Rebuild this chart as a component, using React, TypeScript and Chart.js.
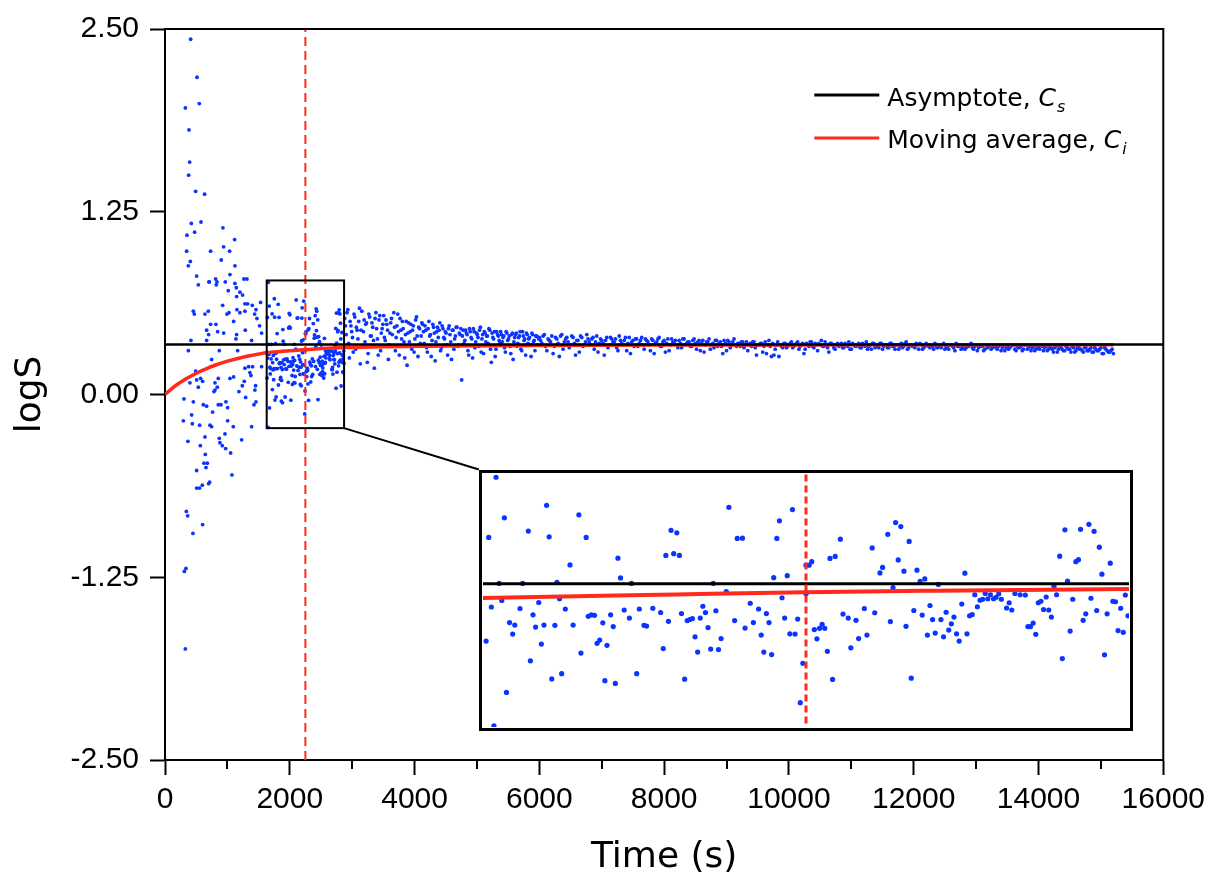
import React, { useEffect, useRef } from 'react';
import { Chart, registerables } from 'chart.js';

Chart.register(...registerables);

// ---------- axis / reference values ----------
const X_MIN = 0;
const X_MAX = 16000;
const X_STEP = 2000;
const MINOR_X_TICKS = [1000, 3000, 5000, 7000, 9000, 11000, 13000, 15000];
const Y_MIN = -2.5;
const Y_MAX = 2.5;
const Y_STEP = 1.25;

const ASYMPTOTE = 0.342; // C_s
const CUTOFF_TIME = 2250; // red dashed line

// zoom box (data units) shown enlarged in the inset
const BOX_X = [1630, 2870];
const BOX_Y = [-0.23, 0.78];
// where the inset sits on the main chart (data units of main chart)
const INSET_X = [5030, 15520];
const INSET_Y = [-2.3, -0.513];

// moving average C_i
const MA_T = [0, 100, 200, 300, 400, 534, 650, 801, 1000, 1200, 1400, 1630, 2000, 2250, 2500, 2870, 3500, 4500, 6000, 8000, 10000, 12000, 15200];
const MA_V = [0, 0.037, 0.07, 0.098, 0.122, 0.152, 0.174, 0.2, 0.228, 0.25, 0.268, 0.285, 0.299, 0.308, 0.314, 0.321, 0.327, 0.332, 0.336, 0.338, 0.339, 0.34, 0.34];

// early scattered logS points [time, logS]
const EARLY_POINTS: [number, number][] = [
  [411, 2.43], [513, 2.17], [550, 1.99], [326, 1.96], [384, 1.81], [395, 1.59], [379, 1.5], [491, 1.39], [635, 1.37], [422, 1.17],
  [577, 1.18], [929, 1.14], [352, 1.09], [475, 1.11], [1116, 1.06], [347, 0.98], [731, 0.98], [940, 1.01], [1036, 0.98], [406, 0.91],
  [374, 0.88], [902, 0.92], [1121, 0.88], [507, 0.81], [812, 0.79], [1041, 0.82], [1265, 0.79], [705, 0.77], [833, 0.77], [1313, 0.79],
  [534, 0.75], [710, 0.77], [822, 0.75], [966, 0.77], [1121, 0.76], [1143, 0.73], [1014, 0.71], [1201, 0.7], [1244, 0.68], [1148, 0.67],
  [1324, 0.62], [1281, 0.62], [1399, 0.61], [1458, 0.58], [1532, 0.63], [924, 0.61], [1153, 0.58], [1201, 0.56], [1281, 0.57], [1025, 0.56],
  [993, 0.55], [694, 0.57], [454, 0.57], [470, 0.55], [641, 0.55], [1436, 0.55], [1474, 0.52], [1100, 0.5], [731, 0.48], [817, 0.48],
  [667, 0.44], [844, 0.43], [699, 0.41], [940, 0.42], [1148, 0.41], [1287, 0.44], [1516, 0.47], [1548, 0.42], [667, 0.37], [416, 0.37],
  [1137, 0.38], [1388, 0.37],
  [374, 0.3], [747, 0.24], [870, 0.3], [1164, 0.3], [1281, 0.18], [1340, 0.19], [1404, 0.19], [1548, 0.19], [1377, 0.13], [1361, 0.15],
  [491, 0.16], [507, 0.1], [571, 0.11], [603, 0.09], [400, 0.08], [534, 0.05], [801, 0.08], [854, 0.11], [1041, 0.11], [1100, 0.12],
  [1239, 0.06], [1271, 0.09], [1452, 0.06], [801, 0.03], [838, 0.05], [785, 0.02], [1185, 0.02], [1441, 0.03], [1292, -0.02], [304, -0.03],
  [454, -0.05], [614, -0.07], [667, -0.08], [854, -0.07], [897, -0.07], [977, -0.05], [1004, -0.09], [1426, -0.07], [1458, -0.05], [763, -0.12],
  [427, -0.14], [294, -0.18], [438, -0.2], [555, -0.21], [721, -0.21], [747, -0.22], [1004, -0.18], [1094, -0.22], [1388, -0.22], [961, -0.27],
  [641, -0.29], [870, -0.3], [368, -0.32], [880, -0.33], [1228, -0.31], [918, -0.35], [566, -0.35], [972, -0.37], [1052, -0.4], [646, -0.41],
  [625, -0.47], [678, -0.47], [657, -0.5], [507, -0.52], [1073, -0.55],
  [598, -0.62], [699, -0.61], [715, -0.6], [507, -0.64], [555, -0.64], [342, -0.8], [363, -0.83], [603, -0.89], [448, -0.95], [336, -1.19],
  [310, -1.21], [326, -1.74],
];

// points inside the zoom box [time, logS]
const BOX_POINTS: [number, number][] = [
  [1655, 0.767], [1641, 0.527], [1671, 0.605], [1717, 0.552], [1752, 0.655], [1757, 0.529], [1814, 0.617], [1828, 0.527], [1797, 0.417], [1772, 0.347],
  [1661, 0.343], [1706, 0.343], [1889, 0.444], [1894, 0.365], [1915, 0.343], [1981, 0.455], [1991, 0.555], [2002, 0.545], [1996, 0.462], [2007, 0.455],
  [2102, 0.647], [2118, 0.523], [2128, 0.524], [2199, 0.593], [2194, 0.523], [2224, 0.638], [2188, 0.366], [2214, 0.374], [2072, 0.343], [2250, 0.416],
  [1666, 0.275], [1646, 0.249], [1701, 0.243], [1681, 0.187], [1691, 0.177], [1687, 0.141], [1636, 0.113], [1726, 0.218], [1737, 0.267], [1731, 0.169],
  [1747, 0.177], [1768, 0.176], [1742, 0.101], [1721, 0.034], [1762, -0.038], [1781, -0.017], [1675, -0.092], [1651, -0.225], [1788, 0.241], [1803, 0.177],
  [1818, 0.065], [1832, 0.212], [1838, 0.218], [1844, 0.216], [1777, 0.282], [1860, 0.186], [1875, 0.218], [1880, 0.171], [1849, 0.104], [1854, 0.117],
  [1868, 0.096], [1864, -0.045], [1884, -0.056], [1901, 0.237], [1911, 0.205], [1930, 0.241], [1939, 0.176], [1944, 0.173], [1956, 0.244], [1971, 0.227],
  [1986, 0.192], [1976, 0.083], [1925, -0.017], [2011, 0.223], [2022, 0.195], [2027, 0.199], [2032, 0.203], [2047, 0.205], [2052, 0.252], [2057, 0.227],
  [2062, 0.167], [2077, 0.234], [2037, 0.13], [2042, 0.069], [2067, 0.081], [2082, 0.079], [2087, 0.123], [2017, -0.039], [2097, 0.311], [2113, 0.195],
  [2133, 0.165], [2143, 0.264], [2149, 0.187], [2159, 0.241], [2164, 0.137], [2169, 0.069], [2174, 0.223], [2179, 0.187], [2184, 0.059], [2204, 0.286],
  [2209, 0.205], [2219, 0.142], [2229, 0.141], [2234, 0.201], [2244, 0.024], [2239, -0.133], [2250, 0.302],
  [2256, 0.416], [2261, 0.43], [2296, 0.443], [2306, 0.451], [2316, 0.52], [2377, 0.485], [2407, 0.539], [2422, 0.586], [2432, 0.57], [2448, 0.511],
  [2392, 0.385], [2397, 0.407], [2427, 0.437], [2438, 0.392], [2463, 0.396], [2469, 0.351], [2478, 0.361], [2555, 0.384], [2417, 0.326], [2504, 0.339],
  [2737, 0.452], [2747, 0.557], [2752, 0.352], [2768, 0.43], [2773, 0.438], [2777, 0.559], [2793, 0.579], [2803, 0.551], [2813, 0.488], [2818, 0.38],
  [2834, 0.424], [2726, 0.331],
  [2266, 0.159], [2271, 0.122], [2276, 0.164], [2281, 0.18], [2286, 0.164], [2291, 0.072], [2301, -0.04], [2321, 0.221], [2331, 0.205], [2336, 0.086],
  [2346, 0.196], [2351, 0.123], [2362, 0.243], [2367, 0.137], [2382, 0.226], [2412, 0.191], [2442, 0.172], [2452, -0.035], [2457, 0.235], [2473, 0.217],
  [2483, 0.137], [2488, 0.255], [2493, 0.199], [2498, 0.145], [2509, 0.199], [2514, 0.13], [2519, 0.228], [2524, 0.157], [2529, 0.182], [2534, 0.209],
  [2539, 0.142], [2544, 0.113], [2549, 0.261], [2559, 0.142], [2564, 0.214], [2569, 0.219], [2579, 0.25], [2574, 0.298], [2584, 0.276], [2589, 0.28],
  [2594, 0.303], [2599, 0.282], [2604, 0.298], [2610, 0.282], [2615, 0.288], [2620, 0.302], [2625, 0.28], [2635, 0.245], [2640, 0.266], [2645, 0.237],
  [2651, 0.303], [2661, 0.298], [2671, 0.297], [2676, 0.171], [2681, 0.171], [2686, 0.185], [2691, 0.14], [2696, 0.266], [2701, 0.272], [2706, 0.239],
  [2711, 0.289], [2716, 0.237], [2721, 0.209], [2731, 0.298], [2742, 0.043], [2757, 0.153], [2762, 0.28], [2782, 0.196], [2787, 0.222], [2797, 0.284],
  [2808, 0.235], [2823, 0.058], [2828, 0.222], [2839, 0.272], [2844, 0.27], [2849, 0.155], [2854, 0.244], [2859, 0.148], [2863, 0.297], [2868, 0.214],
];

// later, regularly sampled logS values (two interleaved sample series)
const SEG_A_START = 2880;
const SEG_A_STEP = 25;
const SEG_A_VALUES = [
  0.52, 0.41, 0.58, 0.25, 0.47, 0.39, 0.55, 0.31, 0.44, 0.5, 0.21, 0.57, 0.43, 0.36, 0.49, 0.28, 0.53, 0.4, 0.46, 0.18, 0.56, 0.38, 0.51, 0.3, 0.45,
  0.54, 0.37, 0.48, 0.24, 0.42, 0.52, 0.33, 0.46, 0.39, 0.55, 0.27, 0.44, 0.5, 0.36, 0.41, 0.2, 0.49, 0.43, 0.31, 0.47, 0.38, 0.53, 0.26, 0.45, 0.4,
  0.48, 0.35, 0.44, 0.29, 0.5, 0.41, 0.37, 0.46, 0.23, 0.43, 0.39, 0.49, 0.32, 0.45, 0.38, 0.42, 0.27, 0.47, 0.36, 0.44, 0.31, 0.4, 0.46, 0.34, 0.41,
  0.1, 0.44, 0.37, 0.42, 0.3, 0.45, 0.39, 0.25, 0.43, 0.36, 0.41, 0.33, 0.46, 0.38, 0.28, 0.42, 0.4, 0.35, 0.44, 0.22, 0.39, 0.43, 0.31, 0.41, 0.37,
  0.43, 0.36, 0.4, 0.29, 0.42, 0.38, 0.33, 0.41, 0.24, 0.39, 0.42, 0.35, 0.4, 0.31, 0.43, 0.37, 0.27, 0.41, 0.38, 0.34, 0.42, 0.36, 0.3, 0.4, 0.39,
];
const SEG_A2_START = 2892;
const SEG_A2_STEP = 25;
const SEG_A2_VALUES = [
  0.47, 0.56, 0.35, 0.5, 0.43, 0.29, 0.53, 0.46, 0.38, 0.59, 0.44, 0.33, 0.51, 0.48, 0.22, 0.55, 0.4, 0.49, 0.37, 0.52, 0.45, 0.27, 0.54, 0.42, 0.48,
  0.39, 0.51, 0.44, 0.34, 0.49, 0.41, 0.56, 0.3, 0.47, 0.43, 0.52, 0.38, 0.45, 0.25, 0.5, 0.42, 0.36, 0.48, 0.44, 0.29, 0.51, 0.4, 0.46, 0.35, 0.49,
  0.43, 0.47, 0.32, 0.45, 0.4, 0.26, 0.48, 0.42, 0.36, 0.46, 0.44, 0.3, 0.47, 0.39, 0.43, 0.34, 0.45, 0.41, 0.24, 0.44, 0.38, 0.46, 0.33, 0.42, 0.45,
  0.4, 0.35, 0.44, 0.41, 0.27, 0.43, 0.38, 0.45, 0.32, 0.42, 0.39, 0.44, 0.29, 0.41, 0.43, 0.36, 0.4, 0.45, 0.31, 0.42, 0.38, 0.26, 0.43, 0.4, 0.35,
  0.41, 0.39, 0.32, 0.43, 0.37, 0.4, 0.28, 0.42, 0.36, 0.41, 0.33, 0.39, 0.43, 0.3, 0.4, 0.38, 0.42, 0.35, 0.39, 0.26, 0.41, 0.37, 0.4, 0.34, 0.38,
];
const SEG_B_START = 6000;
const SEG_B_STEP = 40;
const SEG_B_VALUES = [
  0.39, 0.35, 0.41, 0.3, 0.37, 0.4, 0.33, 0.38, 0.26, 0.41, 0.36, 0.39, 0.32, 0.4, 0.35, 0.37, 0.29, 0.39, 0.34, 0.41,
  0.36, 0.38, 0.31, 0.4, 0.35, 0.37, 0.27, 0.39, 0.34, 0.38, 0.36, 0.32, 0.4, 0.35, 0.37, 0.3, 0.39, 0.36, 0.33, 0.38,
  0.35, 0.39, 0.31, 0.37, 0.34, 0.38, 0.28, 0.36, 0.39, 0.33, 0.37, 0.35, 0.3, 0.38, 0.36, 0.34, 0.37, 0.32, 0.38, 0.35,
  0.36, 0.33, 0.38, 0.31, 0.37, 0.35, 0.29, 0.36, 0.38, 0.34, 0.32, 0.37, 0.35, 0.33, 0.37, 0.3, 0.36, 0.34, 0.38, 0.33,
  0.35, 0.36, 0.32, 0.36, 0.34, 0.33, 0.36, 0.27, 0.34, 0.35, 0.33, 0.28, 0.37, 0.26, 0.27, 0.34, 0.26, 0.33, 0.35, 0.32,
  0.34, 0.36, 0.33, 0.35, 0.31, 0.34, 0.28, 0.35, 0.33, 0.36, 0.32, 0.34, 0.35, 0.37, 0.33, 0.34, 0.29, 0.35, 0.32, 0.34,
  0.33, 0.35, 0.32, 0.34, 0.36, 0.31, 0.34, 0.33, 0.35, 0.32, 0.34, 0.36, 0.33, 0.31, 0.35, 0.34, 0.32, 0.35, 0.33, 0.34,
  0.32, 0.35, 0.33, 0.34, 0.31, 0.35, 0.33, 0.36, 0.32, 0.34, 0.33, 0.35, 0.31, 0.34, 0.32, 0.35, 0.33, 0.34, 0.31, 0.33,
  0.34, 0.32, 0.35, 0.33, 0.31, 0.34, 0.32, 0.35, 0.33, 0.31, 0.34, 0.32, 0.33, 0.35, 0.31, 0.34, 0.32, 0.33, 0.3, 0.34,
  0.33, 0.31, 0.34, 0.32, 0.33, 0.3, 0.34, 0.32, 0.31, 0.33, 0.34, 0.3, 0.32, 0.33, 0.31, 0.34, 0.32, 0.3, 0.33, 0.31,
  0.32, 0.34, 0.3, 0.33, 0.31, 0.32, 0.29, 0.33, 0.31, 0.32, 0.3, 0.33, 0.31, 0.29, 0.32, 0.3, 0.33, 0.31, 0.29, 0.32,
  0.3, 0.32, 0.29, 0.31, 0.3, 0.32, 0.28, 0.31, 0.29, 0.3, 0.28,
];
const SEG_B2_START = 6020;
const SEG_B2_STEP = 40;
const SEG_B2_VALUES = [
  0.37, 0.4, 0.33, 0.38, 0.36, 0.28, 0.39, 0.35, 0.4, 0.31, 0.38, 0.36, 0.34, 0.39, 0.27, 0.37, 0.4, 0.33, 0.36, 0.38,
  0.34, 0.39, 0.36, 0.29, 0.38, 0.35, 0.37, 0.32, 0.39, 0.36, 0.38, 0.3, 0.37, 0.34, 0.39, 0.35, 0.28, 0.37, 0.38, 0.33,
  0.37, 0.34, 0.38, 0.36, 0.3, 0.37, 0.35, 0.38, 0.33, 0.36, 0.29, 0.38, 0.34, 0.36, 0.37, 0.32, 0.35, 0.38, 0.34, 0.36,
  0.33, 0.37, 0.35, 0.36, 0.3, 0.37, 0.34, 0.36, 0.31, 0.35, 0.37, 0.33, 0.36, 0.28, 0.35, 0.37, 0.32, 0.36, 0.34, 0.35,
  0.33, 0.36, 0.34, 0.3, 0.35, 0.36, 0.32, 0.34, 0.35, 0.29, 0.36, 0.34, 0.33, 0.35, 0.31, 0.36, 0.34, 0.32, 0.35, 0.33,
  0.35, 0.32, 0.34, 0.36, 0.33, 0.35, 0.31, 0.34, 0.36, 0.33, 0.35, 0.3, 0.34, 0.33, 0.36, 0.32, 0.35, 0.34, 0.31, 0.35,
  0.34, 0.32, 0.35, 0.33, 0.31, 0.35, 0.33, 0.34, 0.32, 0.35, 0.33, 0.31, 0.34, 0.35, 0.32, 0.33, 0.35, 0.31, 0.34, 0.32,
  0.35, 0.33, 0.31, 0.34, 0.33, 0.32, 0.35, 0.31, 0.34, 0.33, 0.32, 0.34, 0.35, 0.31, 0.33, 0.34, 0.32, 0.33, 0.35, 0.32,
  0.33, 0.34, 0.31, 0.32, 0.34, 0.33, 0.3, 0.33, 0.34, 0.32, 0.31, 0.33, 0.34, 0.32, 0.33, 0.3, 0.34, 0.33, 0.31, 0.32,
  0.34, 0.32, 0.33, 0.31, 0.34, 0.32, 0.3, 0.33, 0.32, 0.34, 0.31, 0.33, 0.32, 0.3, 0.34, 0.31, 0.33, 0.32, 0.3, 0.33,
  0.31, 0.33, 0.32, 0.3, 0.33, 0.31, 0.32, 0.29, 0.33, 0.31, 0.3, 0.32, 0.31, 0.33, 0.29, 0.32, 0.31, 0.3, 0.32, 0.3,
  0.31, 0.29, 0.32, 0.3, 0.31, 0.28, 0.32, 0.3, 0.29, 0.31,
];

const BLUE = 'rgb(12, 52, 255)';
const RED = '#ff2a1a';
const TICK_FONT = { family: '"Liberation Sans", Arial, sans-serif', size: 30 };
const TITLE_FONT = { family: '"DejaVu Sans", Verdana, sans-serif', size: 36 };
const LEGEND_FAMILY = '"DejaVu Sans", Verdana, sans-serif';

function buildPoints() {
  const pts: { x: number; y: number }[] = [];
  EARLY_POINTS.forEach(([x, y]) => pts.push({ x, y }));
  BOX_POINTS.forEach(([x, y]) => pts.push({ x, y }));
  SEG_A_VALUES.forEach((y, i) => pts.push({ x: SEG_A_START + i * SEG_A_STEP, y }));
  SEG_A2_VALUES.forEach((y, i) => pts.push({ x: SEG_A2_START + i * SEG_A2_STEP, y }));
  SEG_B_VALUES.forEach((y, i) => pts.push({ x: SEG_B_START + i * SEG_B_STEP, y }));
  SEG_B2_VALUES.forEach((y, i) => pts.push({ x: SEG_B2_START + i * SEG_B2_STEP, y }));
  return pts;
}

function datasets(pointRadius: number, maWidth: number, asyWidth: number, dashWidth: number, dash: number[]) {
  const pts = buildPoints();
  return [
    {
      label: 'cutoff',
      data: [{ x: CUTOFF_TIME, y: Y_MIN }, { x: CUTOFF_TIME, y: Y_MAX }],
      showLine: true, borderColor: RED, borderWidth: dashWidth, borderDash: dash, pointRadius: 0, order: 0,
    },
    {
      label: 'Asymptote',
      data: [{ x: X_MIN, y: ASYMPTOTE }, { x: X_MAX, y: ASYMPTOTE }],
      showLine: true, borderColor: '#000', borderWidth: asyWidth, pointRadius: 0, order: 1,
    },
    {
      label: 'Moving average',
      data: MA_T.map((t, i) => ({ x: t, y: MA_V[i] })),
      showLine: true, borderColor: RED, borderWidth: maWidth, pointRadius: 0,
      cubicInterpolationMode: 'monotone', order: 2,
    },
    {
      label: 'logS',
      data: pts,
      pointRadius, pointBackgroundColor: BLUE, pointBorderWidth: 0, showLine: false, order: 3,
    },
  ];
}

function drawLegendEntry(ctx: CanvasRenderingContext2D, x: number, lineY: number, baseY: number, color: string, label: string, sub: string) {
  ctx.strokeStyle = color;
  ctx.lineWidth = 3;
  ctx.beginPath();
  ctx.moveTo(x, lineY);
  ctx.lineTo(x + 65, lineY);
  ctx.stroke();
  ctx.fillStyle = '#000';
  ctx.textBaseline = 'alphabetic';
  ctx.textAlign = 'left';
  let tx = x + 73;
  ctx.font = `25px ${LEGEND_FAMILY}`;
  ctx.fillText(label, tx, baseY);
  tx += ctx.measureText(label).width;
  ctx.font = `italic 25px ${LEGEND_FAMILY}`;
  ctx.fillText('C', tx, baseY);
  tx += ctx.measureText('C').width;
  ctx.font = `italic 16px ${LEGEND_FAMILY}`;
  ctx.fillText(sub, tx + 1, baseY + 6);
}

const mainDecor = {
  id: 'mainDecor',
  afterDatasetsDraw(chart: any) {
    const { ctx, chartArea: a, scales } = chart;
    const xs = scales.x;
    const ys = scales.y;
    ctx.save();
    ctx.strokeStyle = '#000';
    ctx.lineWidth = 2;
    // top and right frame
    ctx.beginPath();
    ctx.moveTo(a.left - 1, a.top);
    ctx.lineTo(a.right, a.top);
    ctx.lineTo(a.right, a.bottom + 1);
    ctx.stroke();
    // minor x ticks
    ctx.beginPath();
    MINOR_X_TICKS.forEach((t) => {
      const px = Math.round(xs.getPixelForValue(t));
      ctx.moveTo(px, a.bottom);
      ctx.lineTo(px, a.bottom + 9);
    });
    ctx.stroke();
    // zoom box
    const bx0 = xs.getPixelForValue(BOX_X[0]);
    const bx1 = xs.getPixelForValue(BOX_X[1]);
    const by0 = ys.getPixelForValue(BOX_Y[1]);
    const by1 = ys.getPixelForValue(BOX_Y[0]);
    ctx.strokeRect(bx0, by0, bx1 - bx0, by1 - by0);
    // connector to inset
    const ix = xs.getPixelForValue(INSET_X[0]);
    const iy = ys.getPixelForValue(INSET_Y[1]);
    ctx.beginPath();
    ctx.moveTo(bx1, by1);
    ctx.lineTo(ix, iy);
    ctx.stroke();
    // legend
    const lx = a.right - 349;
    drawLegendEntry(ctx, lx, a.top + 66, a.top + 77, '#000', 'Asymptote, ', 's');
    drawLegendEntry(ctx, lx, a.top + 109, a.top + 119, RED, 'Moving average, ', 'i');
    ctx.restore();
  },
};

const insetDecor = {
  id: 'insetDecor',
  beforeDraw(chart: any) {
    const { ctx, width, height } = chart;
    ctx.save();
    ctx.fillStyle = '#fff';
    ctx.fillRect(0, 0, width, height);
    ctx.restore();
  },
  afterDraw(chart: any) {
    const { ctx, width, height } = chart;
    ctx.save();
    ctx.strokeStyle = '#000';
    ctx.lineWidth = 3;
    ctx.strokeRect(1.5, 1.5, width - 3, height - 3);
    ctx.restore();
  },
};

export default function App() {
  const mainRef = useRef<HTMLCanvasElement>(null);
  const insetRef = useRef<HTMLCanvasElement>(null);

  useEffect(() => {
    const main = new Chart(mainRef.current as HTMLCanvasElement, {
      type: 'scatter',
      data: { datasets: datasets(1.9, 3.5, 2.6, 2, [9, 5]) as any },
      options: {
        responsive: false,
        animation: false,
        events: [],
        devicePixelRatio: 1,
        layout: { padding: { top: 29, right: 48, left: 0, bottom: 0 } },
        plugins: { legend: { display: false }, tooltip: { enabled: false } },
        scales: {
          x: {
            type: 'linear',
            min: X_MIN,
            max: X_MAX,
            afterFit: (s: any) => { s.height = 121; },
            ticks: { stepSize: X_STEP, autoSkip: false, maxRotation: 0, color: '#000', font: TICK_FONT, padding: 7, callback: (v: any) => String(v) },
            grid: { drawOnChartArea: false, tickLength: 15, tickWidth: 2, tickColor: '#000' },
            border: { color: '#000', width: 2 },
            title: { display: true, text: 'Time (s)', color: '#000', font: TITLE_FONT, padding: { top: 0, bottom: 2 } },
          },
          y: {
            type: 'linear',
            min: Y_MIN,
            max: Y_MAX,
            afterFit: (s: any) => { s.width = 165; },
            ticks: { stepSize: Y_STEP, autoSkip: false, color: '#000', font: TICK_FONT, padding: 11, callback: (v: any) => Number(v).toFixed(2) },
            grid: { drawOnChartArea: false, tickLength: 15, tickWidth: 2, tickColor: '#000' },
            border: { color: '#000', width: 2 },
            title: { display: true, text: 'logS', color: '#000', font: TITLE_FONT, padding: { top: 9, bottom: 0 } },
          },
        },
      } as any,
      plugins: [mainDecor],
    });

    const xs: any = main.scales.x;
    const ys: any = main.scales.y;
    const left = Math.round(xs.getPixelForValue(INSET_X[0]));
    const right = Math.round(xs.getPixelForValue(INSET_X[1]));
    const top = Math.round(ys.getPixelForValue(INSET_Y[1]));
    const bottom = Math.round(ys.getPixelForValue(INSET_Y[0]));
    const ic = insetRef.current as HTMLCanvasElement;
    ic.width = right - left;
    ic.height = bottom - top;
    ic.style.left = `${left}px`;
    ic.style.top = `${top}px`;

    const inset = new Chart(ic, {
      type: 'scatter',
      data: { datasets: datasets(2.6, 4, 3, 3, [7, 4]) as any },
      options: {
        responsive: false,
        animation: false,
        events: [],
        devicePixelRatio: 1,
        layout: { padding: 0 },
        plugins: { legend: { display: false }, tooltip: { enabled: false } },
        scales: {
          x: { type: 'linear', min: BOX_X[0], max: BOX_X[1], display: false },
          y: { type: 'linear', min: BOX_Y[0], max: BOX_Y[1], display: false },
        },
      } as any,
      plugins: [insetDecor],
    });

    return () => {
      inset.destroy();
      main.destroy();
    };
  }, []);

  return (
    <div style={{ position: 'absolute', left: 0, top: 0, width: 1212, height: 881, background: '#fff', overflow: 'hidden' }}>
      <canvas ref={mainRef} width={1212} height={881} style={{ position: 'absolute', left: 0, top: 0 }} />
      <canvas ref={insetRef} style={{ position: 'absolute' }} />
    </div>
  );
}
